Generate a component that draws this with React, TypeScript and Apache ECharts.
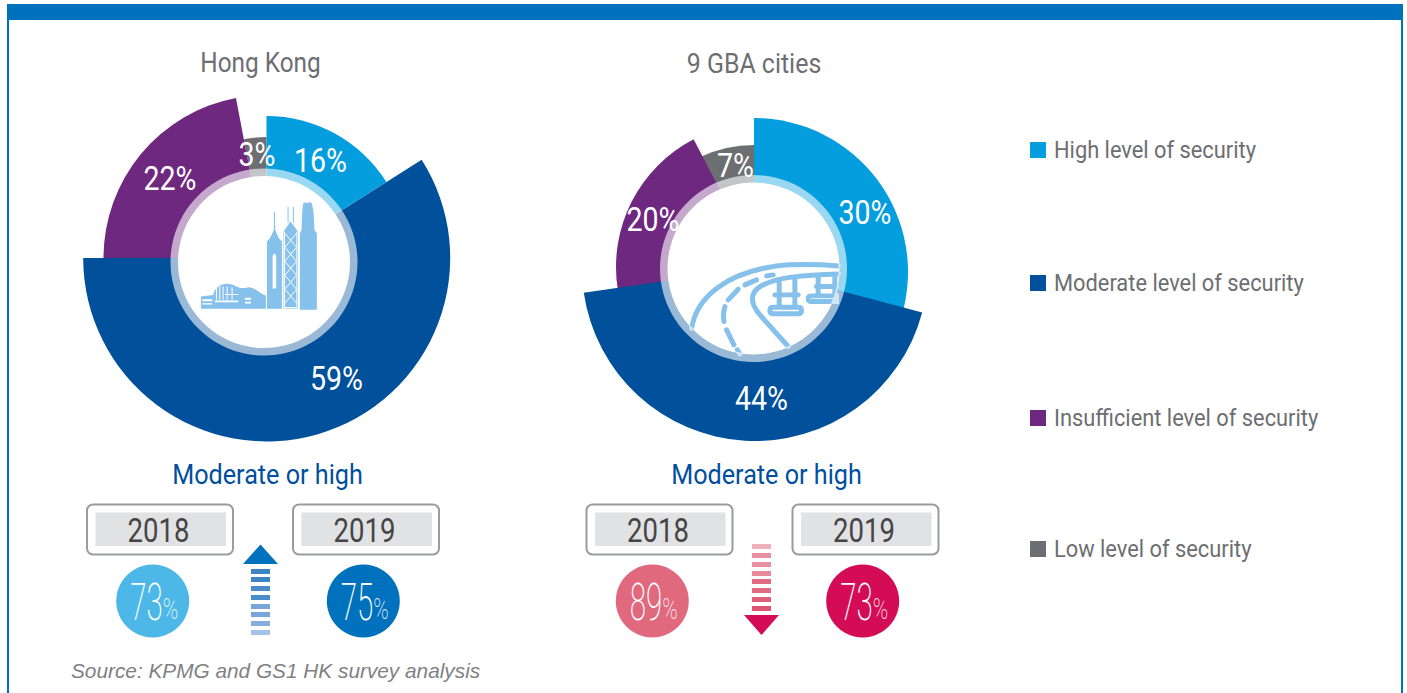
import React, { useEffect, useRef } from "react";
import * as echarts from "echarts";

const segmentNames = ["High level of security", "Moderate level of security", "Insufficient level of security", "Low level of security"];
const hongKongValues = [16, 59, 22, 3];
const gbaValues = [30, 44, 20, 7];
const chartTitles = ["Hong Kong", "9 GBA cities"];
const summaryTitle = "Moderate or high";
const years = ["2018", "2019"];
const hongKongYearly = [73, 75];
const gbaYearly = [89, 73];
const sourceNote = "Source: KPMG and GS1 HK survey analysis";

const segmentColors = ["#049EDF", "#00509B", "#6F2880", "#6D6E71"];
const SANS = "Roboto, sans-serif";
const FRAME = "#0071BC";
const ICON = "#85C1EB";
const TITLE_GREY = "#6D6E71";

echarts.graphic.registerShape("skyline", echarts.graphic.extendPath(
  "M390 420 L390 190 L395 180 L397 125 L400 100 L408 97 L412 100 L418 96 L426 100 L431 125 L434 180 L441 190 L441 420 Z " +
  "M341 416 L341 185 L362 155 L384 185 L384 416 Z M353 110 L356 110 L356 158 L353 158 Z M369 110 L372 110 L372 158 L369 158 Z " +
  "M291 417 L291 215 L300 205 L312 180 L312 125 L315 125 L316 180 L327 205 L336 215 L336 417 Z " +
  "M93 417 L93 380 L110 378 L130 375 C135 350 160 335 190 345 C205 352 215 358 235 352 C255 352 270 370 288 378 L288 417 Z", {}));
echarts.graphic.registerShape("skylineCut", echarts.graphic.extendPath(
  "M308 356 L308 258 L313 250 L319 258 L319 356 Z " +
  "M97 388 L127 388 L127 394 L97 394 Z M97 400 L127 400 L127 404 L97 404 Z M135 392 L205 392 L205 397 L135 397 Z " +
  "M138 352 L141 352 L141 390 L138 390 Z M148 349 L151 349 L151 390 L148 390 Z M158 349 L161 349 L161 390 L158 390 Z " +
  "M170 350 L173 350 L173 390 L170 390 Z M185 352 L188 352 L188 390 L185 390 Z M165 372 L205 372 L205 375 L165 375 Z " +
  "M225 384 L243 384 L243 390 L225 390 Z M225 396 L243 396 L243 401 L225 401 Z", {}));
echarts.graphic.registerShape("lattice", echarts.graphic.extendPath(
  "M345 190 L380 232 L345 274 L380 316 L345 358 L380 400 M380 190 L345 232 L380 274 L345 316 L380 358 L345 400 M344 185 L344 413 L381 413 L381 185", {}));
echarts.graphic.registerShape("bridge", echarts.graphic.extendPath(
  "M95 475 C110 380 200 310 350 288 C420 280 480 284 536 288 M385 530 L300 435 C270 400 270 370 300 350 C350 320 440 315 536 312 " +
  "M340 315 L320 318 M290 330 L255 345 M235 358 L205 390 M195 410 C190 425 190 440 192 455 M200 480 L222 525 M232 540 L240 552 " +
  "M358 335 L358 410 M405 325 L405 410 M345 375 L415 375 M475 318 L475 378 M525 315 L525 378 M470 350 L530 350 " +
  "M340 412 L415 412 Q425 412 425 422 Q425 432 415 432 L340 432 Q330 432 330 422 Q330 412 340 412 Z " +
  "M455 378 L530 378 L530 395 L455 395 Q445 395 445 386 Q445 378 455 378 Z", {}));

type Pt = [number, number];
type Slice = { index: number; center: Pt; r: number; turn?: number };

// Draw order: later slices lie over earlier ones where the offset wedges meet.
const hkSlices: Slice[] = [
  { index: 3, center: [266.5, 258], r: 121 },
  { index: 0, center: [266.5, 258], r: 142 },
  { index: 2, center: [266.5, 258], r: 163 },
  { index: 1, center: [266.7, 258], r: 183.5 },
];
const gbaSlices: Slice[] = [
  { index: 3, center: [754, 271], r: 126 },
  { index: 0, center: [754, 272], r: 154 },
  { index: 2, center: [760, 267], r: 144, turn: 2.5 },
  { index: 1, center: [755, 268], r: 173, turn: 2 },
];
const hkLabelAt: Pt[] = [[320.5, 161], [336.5, 379], [170, 179], [257, 155]];
const gbaLabelAt: Pt[] = [[865, 213], [761.5, 399], [653, 220], [735.5, 166]];
const legendRows = [150, 283, 418, 549];

function sliceSeries(values: number[], slices: Slice[]) {
  return slices.map((s) => ({
    type: "pie", z: 2, silent: true, center: s.center, radius: [0, s.r], startAngle: 90 + (s.turn || 0), clockwise: true,
    label: { show: false }, labelLine: { show: false },
    data: values.map((v, i) => ({
      name: segmentNames[i], value: v,
      itemStyle: { color: i === s.index ? segmentColors[i] : "rgba(0,0,0,0)" },
    })),
  }));
}

function rect(x: number, y: number, w: number, h: number, fill: string, z = 1) {
  return { type: "rect", z, shape: { x, y, width: w, height: h }, style: { fill } };
}

function text(x: number, y: number, t: string, style: any, scaleX = 1) {
  return { type: "text", x, y, z: 6, scaleX, style: { text: t, align: "center", verticalAlign: "middle", fontFamily: SANS, ...style } };
}

function pieLabels(values: number[], at: Pt[]) {
  return values.map((v, i) => text(at[i][0], at[i][1], v + "%", { fontSize: 34, fill: "#fff" }, 0.84));
}

function ringDecor(cx: number, cy: number) {
  return [
    { type: "circle", z: 3, shape: { cx, cy, r: 86 }, style: { fill: "#fff" } },
    { type: "ring", z: 5, shape: { cx, cy, r: 93.5, r0: 85 }, style: { fill: "rgba(255,255,255,0.6)" } },
  ];
}

function yearBlock(boxX: number, circleX: number, label: string, value: number, circleColor: string) {
  const numX = circleX + 10;
  return [
    { type: "rect", z: 1, shape: { x: boxX, y: 504.5, width: 146, height: 50, r: 6 }, style: { fill: "#fff", stroke: "#9A9B9F", lineWidth: 2 } },
    rect(boxX + 8.5, 512.5, 130.5, 33.5, "#E1E2E4"),
    text(boxX + 71.5, 530, label, { fontSize: 34, fill: "#454547" }, 0.81),
    { type: "circle", z: 1, shape: { cx: circleX, cy: 601, r: 36.5 }, style: { fill: circleColor } },
    text(numX, 602, String(value), { fontWeight: 200, fontSize: 51, fill: "#fff", align: "right" }, 0.58),
    text(numX, 609, "%", { fontWeight: 200, fontSize: 29, fill: "rgba(255,255,255,0.85)", align: "left" }, 0.72),
  ];
}

function arrow(x0: number, barTops: number[], colors: string[], tri: number[][], triColor: string) {
  return [
    ...barTops.map((y, i) => rect(x0, y, 19, 5, colors[i])),
    { type: "polygon", z: 1, shape: { points: tri }, style: { fill: triColor } },
  ];
}

function legendItems() {
  return segmentNames.flatMap((name, i) => [
    rect(1030, legendRows[i] - 8, 16, 16, segmentColors[i]),
    text(1054, legendRows[i], name, { fontSize: 24, fill: TITLE_GREY, align: "left" }, 0.91),
  ]);
}

export default function App() {
  const ref = useRef<HTMLDivElement>(null);
  useEffect(() => {
    const chart = echarts.init(ref.current!, null, { renderer: "svg" });
    const blue = ["#3F85C5", "#3F85C5", "#4A8CCA", "#4A8CCA", "#79A6DA", "#79A6DA", "#85ADDD", "#A5C2E7"];
    const red = ["#F0B1BB", "#EA8F9F", "#EA8F9F", "#E98A9B", "#E26B82", "#E26B82", "#E0607A", "#DF5573"];
    chart.setOption({
      animation: false,
      backgroundColor: "#fff",
      series: [...sliceSeries(hongKongValues, hkSlices), ...sliceSeries(gbaValues, gbaSlices)],
      graphic: {
        elements: [
          rect(7, 4, 1396, 16, FRAME),
          rect(7, 20, 2, 673, FRAME),
          rect(1401, 20, 2, 673, FRAME),
          ...ringDecor(264, 262),
          ...ringDecor(753.5, 268.5),
          { type: "skyline", x: 170, y: 170, scaleX: 1 / 3, scaleY: 1 / 3, z: 4, style: { fill: ICON } },
          { type: "skylineCut", x: 170, y: 170, scaleX: 1 / 3, scaleY: 1 / 3, z: 4, z2: 1, style: { fill: "#fff" } },
          { type: "lattice", x: 170, y: 170, scaleX: 1 / 3, scaleY: 1 / 3, z: 4, z2: 1, style: { fill: "none", stroke: "#fff", lineWidth: 3 } },
          { type: "bridge", x: 660, y: 170, scaleX: 1 / 3, scaleY: 1 / 3, z: 4, style: { fill: "none", stroke: ICON, lineWidth: 15, lineCap: "round" } },
          ...pieLabels(hongKongValues, hkLabelAt),
          ...pieLabels(gbaValues, gbaLabelAt),
          text(260.5, 62.5, chartTitles[0], { fontSize: 28, fill: TITLE_GREY }, 0.87),
          text(754, 62.5, chartTitles[1], { fontSize: 28, fill: TITLE_GREY }, 0.89),
          text(267.5, 474.5, summaryTitle, { fontSize: 28, fill: "#004F9E" }, 0.9),
          text(766.5, 474.5, summaryTitle, { fontSize: 28, fill: "#004F9E" }, 0.9),
          ...yearBlock(87, 152.7, years[0], hongKongYearly[0], "#4DB8E8"),
          ...yearBlock(293, 363.3, years[1], hongKongYearly[1], "#0071BC"),
          ...yearBlock(586.5, 652.3, years[0], gbaYearly[0], "#E0697E"),
          ...yearBlock(792.5, 862.7, years[1], gbaYearly[1], "#D40C55"),
          ...arrow(251, [569, 577, 586, 595, 604, 612, 621, 630], blue, [[260.5, 544.5], [243, 564], [278, 564]], FRAME),
          ...arrow(752, [544, 553, 562, 571, 579, 588, 597, 606], red, [[744, 615], [779, 615], [761.5, 635]], "#D40C55"),
          ...legendItems(),
          text(71, 670, sourceNote, { fontFamily: '"Liberation Sans", sans-serif', fontStyle: "italic", fontSize: 20.8, fill: "#808184", align: "left" }),
        ],
      },
    });
    return () => chart.dispose();
  }, []);
  return <div ref={ref} style={{ position: "fixed", left: 0, top: 0, width: 1407, height: 693 }} />;
}
